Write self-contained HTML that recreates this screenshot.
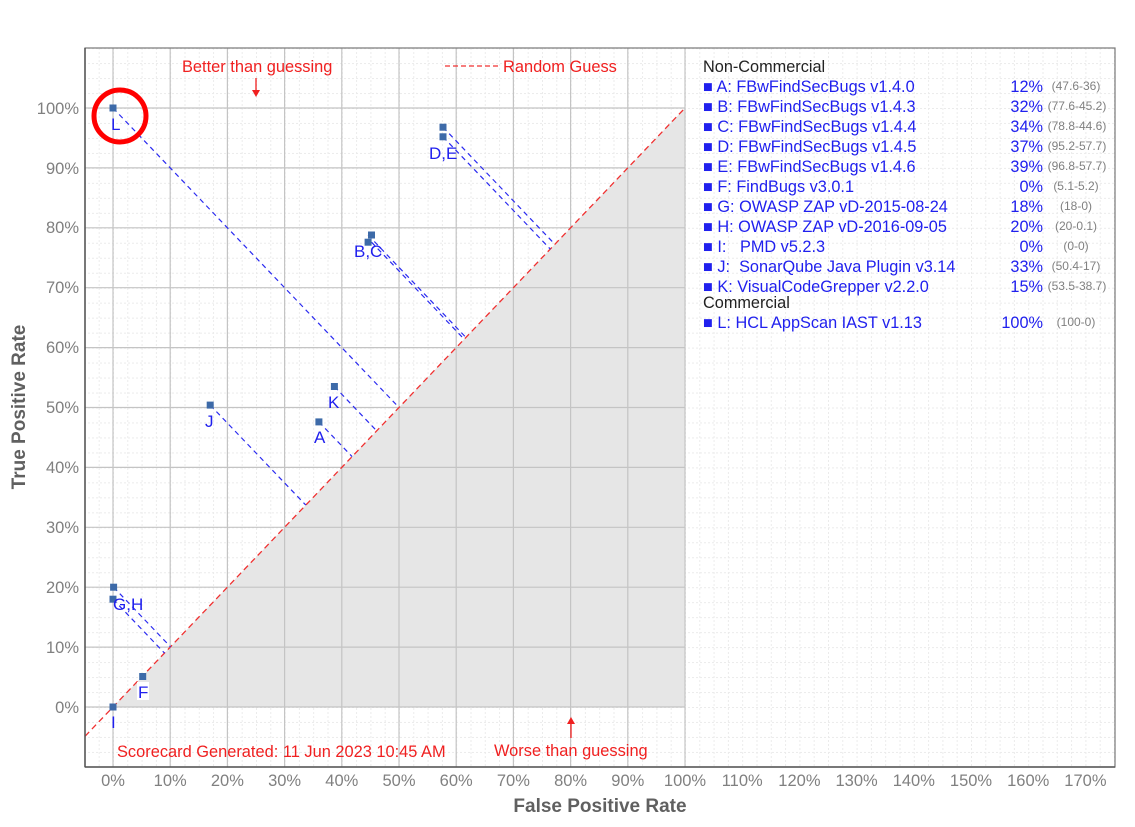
<!DOCTYPE html>
<html><head><meta charset="utf-8"><style>
html,body{margin:0;padding:0;background:#fff;}
svg{display:block;font-family:"Liberation Sans",Arial,sans-serif;}
</style></head><body>
<svg width="1135" height="827" viewBox="0 0 1135 827" xmlns="http://www.w3.org/2000/svg">
<defs>
<pattern id="minx" x="113" y="0" width="14.3" height="827" patternUnits="userSpaceOnUse">
<line x1="0.5" y1="0" x2="0.5" y2="827" stroke="#ebebeb" stroke-width="1" stroke-dasharray="2,2"/>
</pattern>
<pattern id="miny" x="0" y="707" width="1135" height="14.975" patternUnits="userSpaceOnUse">
<line x1="0" y1="0.5" x2="1135" y2="0.5" stroke="#ebebeb" stroke-width="1" stroke-dasharray="2,2"/>
</pattern>
<clipPath id="pa"><rect x="85" y="48" width="1030" height="719"/></clipPath>
</defs>
<rect x="85" y="48" width="1030" height="719" fill="#fff"/>
<g clip-path="url(#pa)">
<rect x="85" y="48" width="1030" height="719" fill="url(#minx)"/>
<rect x="85" y="48" width="1030" height="719" fill="url(#miny)"/>
<polygon points="113,707 685,108 685,707" fill="#e6e6e6"/>
<g stroke="#c4c4c4" stroke-width="1.2">
<line x1="113" y1="48" x2="113" y2="767"/><line x1="170.2" y1="48" x2="170.2" y2="767"/><line x1="227.4" y1="48" x2="227.4" y2="767"/><line x1="284.6" y1="48" x2="284.6" y2="767"/><line x1="341.8" y1="48" x2="341.8" y2="767"/><line x1="399" y1="48" x2="399" y2="767"/><line x1="456.2" y1="48" x2="456.2" y2="767"/><line x1="513.4" y1="48" x2="513.4" y2="767"/><line x1="570.6" y1="48" x2="570.6" y2="767"/><line x1="627.8" y1="48" x2="627.8" y2="767"/><line x1="685" y1="48" x2="685" y2="767"/>
<line x1="85" y1="707" x2="685" y2="707"/><line x1="85" y1="647.1" x2="685" y2="647.1"/><line x1="85" y1="587.2" x2="685" y2="587.2"/><line x1="85" y1="527.3" x2="685" y2="527.3"/><line x1="85" y1="467.4" x2="685" y2="467.4"/><line x1="85" y1="407.5" x2="685" y2="407.5"/><line x1="85" y1="347.6" x2="685" y2="347.6"/><line x1="85" y1="287.7" x2="685" y2="287.7"/><line x1="85" y1="227.8" x2="685" y2="227.8"/><line x1="85" y1="167.9" x2="685" y2="167.9"/><line x1="85" y1="108" x2="685" y2="108"/>
</g>
<line x1="85" y1="736.3" x2="685" y2="108" stroke="#f03030" stroke-width="1.3" stroke-dasharray="6,4"/>
<g stroke="#2a2af0" stroke-width="1.2" stroke-dasharray="5,4">
<line x1="318.9" y1="421.9" x2="352.1" y2="456.6"/>
<line x1="371.5" y1="242.2" x2="464.2" y2="339.2"/>
<line x1="368.1" y1="235.0" x2="465.9" y2="337.4"/>
<line x1="443" y1="136.8" x2="550.3" y2="249.1"/>
<line x1="443" y1="127.2" x2="554.9" y2="244.3"/>
<line x1="113" y1="599.2" x2="164.5" y2="653.1"/>
<line x1="113.6" y1="587.2" x2="170.5" y2="646.8"/>
<line x1="210.2" y1="405.1" x2="305.8" y2="505.1"/>
<line x1="334.4" y1="386.5" x2="376.7" y2="430.9"/>
<line x1="113" y1="108" x2="399" y2="407.5"/>
</g>
<g fill="#3d6aa8">
<rect x="315.4" y="418.4" width="7" height="7"/><rect x="368" y="231.5" width="7" height="7"/><rect x="364.6" y="238.7" width="7" height="7"/>
<rect x="439.5" y="133.3" width="7" height="7"/><rect x="439.5" y="123.7" width="7" height="7"/><rect x="139.2" y="673" width="7" height="7"/>
<rect x="109.5" y="595.7" width="7" height="7"/><rect x="110.1" y="583.7" width="7" height="7"/><rect x="109.5" y="703.5" width="7" height="7"/>
<rect x="206.7" y="401.6" width="7" height="7"/><rect x="330.9" y="383" width="7" height="7"/><rect x="109.5" y="104.5" width="7" height="7"/>
</g>
<g fill="#2020ee" font-size="17">
<text x="314" y="443">A</text><text x="354" y="257">B,C</text><text x="429" y="159">D,E</text>
<rect x="137" y="682" width="12" height="18" fill="#fff"/><text x="138" y="698">F</text>
<text x="113" y="610">G,H</text><text x="111" y="728">I</text><text x="205" y="427">J</text><text x="328" y="408">K</text><text x="111" y="130">L</text>
</g>
<circle cx="120" cy="116" r="26" fill="none" stroke="#f00" stroke-width="5"/>
<g fill="#f02020" font-size="16.4">
<text x="182" y="72">Better than guessing</text>
<line x1="256" y1="78" x2="256" y2="93" stroke="#f02020" stroke-width="1.3"/><polygon points="252,90 260,90 256,97" fill="#f02020"/>
<line x1="445" y1="66" x2="498" y2="66" stroke="#f03030" stroke-width="1.3" stroke-dasharray="5,3"/>
<text x="503" y="72">Random Guess</text>
<text x="117" y="757">Scorecard Generated: 11 Jun 2023 10:45 AM</text>
<text x="494" y="756">Worse than guessing</text>
<line x1="571" y1="724" x2="571" y2="738" stroke="#f02020" stroke-width="1.3"/><polygon points="567,724 575,724 571,717" fill="#f02020"/>
</g>
</g>
<rect x="85" y="48" width="1030" height="719" fill="none" stroke="#777" stroke-width="1.2"/>
<line x1="85" y1="48" x2="85" y2="767" stroke="#555" stroke-width="1.5"/>
<line x1="85" y1="767" x2="1115" y2="767" stroke="#555" stroke-width="1.5"/>
<g fill="#808080" font-size="16.5" text-anchor="end">
<text x="79" y="713">0%</text><text x="79" y="653">10%</text><text x="79" y="593">20%</text><text x="79" y="533">30%</text><text x="79" y="473">40%</text><text x="79" y="413">50%</text><text x="79" y="353">60%</text><text x="79" y="293">70%</text><text x="79" y="233">80%</text><text x="79" y="174">90%</text><text x="79" y="114">100%</text>
</g>
<g fill="#808080" font-size="16.5" text-anchor="middle">
<text x="113" y="786">0%</text><text x="170.2" y="786">10%</text><text x="227.4" y="786">20%</text><text x="284.6" y="786">30%</text><text x="341.8" y="786">40%</text><text x="399" y="786">50%</text><text x="456.2" y="786">60%</text><text x="513.4" y="786">70%</text><text x="570.6" y="786">80%</text><text x="627.8" y="786">90%</text><text x="685" y="786">100%</text><text x="742.2" y="786">110%</text><text x="799.4" y="786">120%</text><text x="856.6" y="786">130%</text><text x="913.8" y="786">140%</text><text x="971" y="786">150%</text><text x="1028.2" y="786">160%</text><text x="1085.4" y="786">170%</text>
</g>
<text x="600" y="812" fill="#606060" font-size="19" font-weight="bold" text-anchor="middle">False Positive Rate</text>
<text transform="translate(25,407) rotate(-90)" fill="#606060" font-size="19" font-weight="bold" text-anchor="middle">True Positive Rate</text>
<g font-size="16.3">
<text x="703" y="72" fill="#222">Non-Commercial</text>
<g fill="#2020ee">
<text x="703" y="92">■ A: FBwFindSecBugs v1.4.0</text><text x="703" y="112">■ B: FBwFindSecBugs v1.4.3</text><text x="703" y="132">■ C: FBwFindSecBugs v1.4.4</text><text x="703" y="152">■ D: FBwFindSecBugs v1.4.5</text><text x="703" y="172">■ E: FBwFindSecBugs v1.4.6</text><text x="703" y="192">■ F: FindBugs v3.0.1</text><text x="703" y="212">■ G: OWASP ZAP vD-2015-08-24</text><text x="703" y="232">■ H: OWASP ZAP vD-2016-09-05</text><text x="703" y="252">■ I:&#160;&#160; PMD v5.2.3</text><text x="703" y="272">■ J:&#160; SonarQube Java Plugin v3.14</text><text x="703" y="292">■ K: VisualCodeGrepper v2.2.0</text><text x="703" y="328">■ L: HCL AppScan IAST v1.13</text>
</g>
<text x="703" y="308" fill="#222">Commercial</text>
<g fill="#2020ee" text-anchor="end">
<text x="1043" y="92">12%</text><text x="1043" y="112">32%</text><text x="1043" y="132">34%</text><text x="1043" y="152">37%</text><text x="1043" y="172">39%</text><text x="1043" y="192">0%</text><text x="1043" y="212">18%</text><text x="1043" y="232">20%</text><text x="1043" y="252">0%</text><text x="1043" y="272">33%</text><text x="1043" y="292">15%</text><text x="1043" y="328">100%</text>
</g>
<g fill="#808080" font-size="12" text-anchor="middle">
<text x="1076" y="90">(47.6-36)</text><text x="1077" y="110">(77.6-45.2)</text><text x="1077" y="130">(78.8-44.6)</text><text x="1077" y="150">(95.2-57.7)</text><text x="1077" y="170">(96.8-57.7)</text><text x="1076" y="190">(5.1-5.2)</text><text x="1076" y="210">(18-0)</text><text x="1076" y="230">(20-0.1)</text><text x="1076" y="250">(0-0)</text><text x="1076" y="270">(50.4-17)</text><text x="1077" y="290">(53.5-38.7)</text><text x="1076" y="326">(100-0)</text>
</g>
</g>
</svg>
</body></html>
